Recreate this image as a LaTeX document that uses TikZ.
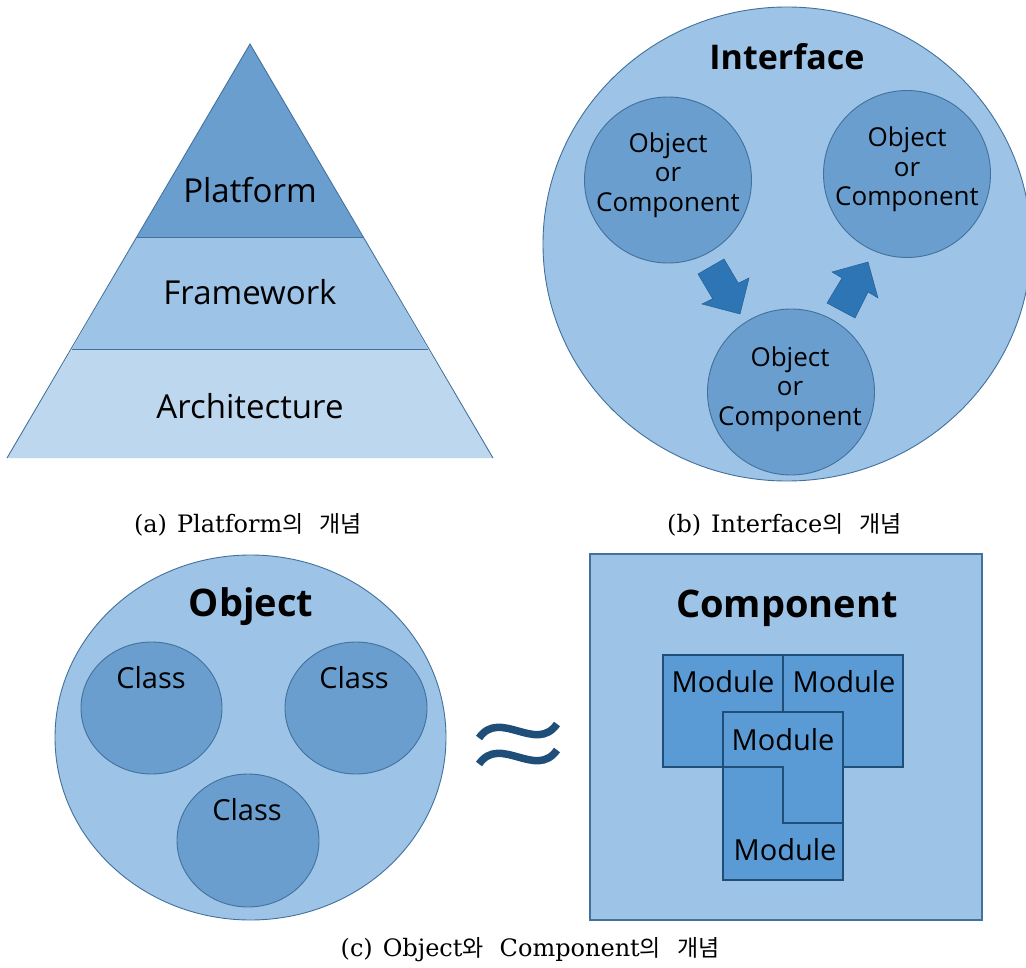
\documentclass[tikz,border=0pt]{standalone}
\usepackage{fontspec}
\setmainfont{Open Sans}
\newfontfamily\capserif{DejaVu Serif}
\newfontfamily\kr{Noto Sans CJK KR}
\usetikzlibrary{shapes.geometric}
\definecolor{lightfill}{HTML}{9DC3E6}
\definecolor{midfill}{HTML}{6A9ECF}
\definecolor{palefill}{HTML}{BDD7EE}
\definecolor{modfill}{HTML}{5B9BD5}
\definecolor{darkline}{HTML}{1F4E79}
\definecolor{thinline}{HTML}{41719C}
\definecolor{arrowfill}{HTML}{2E75B6}
\newcommand{\hg}[1]{{\kr\fontsize{23}{27}\selectfont #1}}
\begin{document}
\begin{tikzpicture}[x=1pt,y=-1pt,
  outl/.style={draw=thinline,line width=0.9pt},
  bigcirc/.style={ellipse,outl,fill=lightfill,inner sep=0pt},
  smallcirc/.style={ellipse,outl,fill=midfill,inner sep=0pt},
  modbox/.style={draw=darkline,line width=2.2pt,fill=modfill,line join=miter},
  lbl/.style={inner sep=0pt,anchor=base,font=\fontsize{33}{38}\selectfont},
  title/.style={inner sep=0pt,anchor=base,font=\fontsize{34}{40}\selectfont\bfseries},
  bigtitle/.style={inner sep=0pt,anchor=base,font=\fontsize{38}{44}\selectfont\bfseries},
  occ/.style={inner sep=0pt,align=center,font=\fontsize{26}{29.5}\selectfont},
  cls/.style={inner sep=0pt,anchor=base,font=\fontsize{29}{33}\selectfont},
  modlbl/.style={inner sep=0pt,anchor=base,font=\fontsize{29}{33}\selectfont},
  captext/.style={inner sep=0pt,anchor=base,font=\fontsize{24}{28}\selectfont\capserif},
  blockarrow/.style={fill=arrowfill,draw=arrowfill!80!black,line width=0.5pt,line join=miter}
]
\useasboundingbox (0,0) rectangle (1026,968);

% ---------- (a) pyramid ----------
\coordinate (apex) at (250,44);
\coordinate (p1l) at (137,237); \coordinate (p1r) at (363,237);
\coordinate (p2l) at (72,349);  \coordinate (p2r) at (428,349);
\coordinate (p3l) at (7,458);   \coordinate (p3r) at (493,458);
\fill[palefill] (p2l) -- (p2r) -- (p3r) -- (p3l) -- cycle;
\fill[lightfill] (p1l) -- (p1r) -- (p2r) -- (p2l) -- cycle;
\fill[midfill] (apex) -- (p1r) -- (p1l) -- cycle;
\draw[outl] (p3l) -- (apex) -- (p3r);
\draw[outl] (p1l) -- (p1r);
\draw[outl] (p2l) -- (p2r);
\node[lbl] (platform) at (250,203) {Platform};
\node[lbl] (framework) at (250,305) {Framework};
\node[lbl] (architecture) at (250,418) {Architecture};
\node[captext] (capa) at (248,532) {(a)\hspace{10pt}Platform\hg{의\hspace{16pt}개념}};

% ---------- (b) interface ----------
\node[bigcirc,minimum width=488pt,minimum height=474pt] (iface) at (787,244) {};
\node[title] (ifacet) at (787,70) {Interface};
\node[smallcirc,minimum width=167pt,minimum height=166pt] (oc1) at (668,180) {};
\node[smallcirc,minimum width=167pt,minimum height=167pt] (oc2) at (907,174) {};
\node[smallcirc,minimum width=167pt,minimum height=166pt] (oc3) at (791,392) {};
\node[occ] (oc1t) at (668,175) {Object\\or\\Component};
\node[occ] (oc2t) at (907,169.5) {Object\\or\\Component};
\node[occ] (oc3t) at (790,389) {Object\\or\\Component};
% block arrows
\coordinate (a1s1) at (698,274); \coordinate (a1s2) at (724,259);
\coordinate (a1i2) at (738.3,283.2); \coordinate (a1w2) at (749,278);
\coordinate (a1t) at (740,314);
\coordinate (a1w1) at (702,304); \coordinate (a1i1) at (712.7,298.8);
\draw[blockarrow] (a1s1) -- (a1s2) -- (a1i2) -- (a1w2) -- (a1t) -- (a1w1) -- (a1i1) -- cycle;
\coordinate (a2s1) at (827,303); \coordinate (a2s2) at (855,318);
\coordinate (a2i2) at (868,292); \coordinate (a2w2) at (878,298);
\coordinate (a2t) at (868,262);
\coordinate (a2w1) at (832,272); \coordinate (a2i1) at (842,278);
\draw[blockarrow] (a2s1) -- (a2i1) -- (a2w1) -- (a2t) -- (a2w2) -- (a2i2) -- (a2s2) -- cycle;
\node[captext] (capb) at (784.5,532) {(b)\hspace{10pt}Interface\hg{의\hspace{16pt}개념}};

% ---------- (c) object ----------
\node[bigcirc,minimum width=391pt,minimum height=365pt] (obj) at (250.5,737.5) {};
\node[bigtitle] (objt) at (251,616) {Object};
\node[smallcirc,minimum width=141pt,minimum height=132pt] (cl1) at (151.5,708) {};
\node[smallcirc,minimum width=142pt,minimum height=132pt] (cl2) at (356,708) {};
\node[smallcirc,minimum width=142pt,minimum height=133pt] (cl3) at (248,840.5) {};
\node[cls] (cl1t) at (151,688) {Class};
\node[cls] (cl2t) at (354,688) {Class};
\node[cls] (cl3t) at (247,820) {Class};

% approx sign
\coordinate (w1a) at (479,738); \coordinate (w1b) at (557,724);
\coordinate (w2a) at (479,764); \coordinate (w2b) at (557,750);
\draw[darkline,line width=7.5pt,line cap=butt] (w1a) .. controls (500,708) and (536,754) .. (w1b);
\draw[darkline,line width=7.5pt,line cap=butt] (w2a) .. controls (500,734) and (536,780) .. (w2b);

% ---------- (c) component ----------
\node[draw=thinline,line width=1.2pt,fill=lightfill,minimum width=392pt,minimum height=366pt,inner sep=0pt] (comp) at (786,737) {};
\node[bigtitle] (compt) at (787,617) {Component};
\coordinate (m1a) at (663,655); \coordinate (m1b) at (783,767);
\coordinate (m2a) at (783,655); \coordinate (m2b) at (903,767);
\draw[modbox] (m1a) rectangle (m1b);
\draw[modbox] (m2a) rectangle (m2b);
\draw[modbox] (723,712) -- (843,712) -- (843,823) -- (783,823) -- (783,767) -- (723,767) -- cycle;
\draw[modbox] (723,767) -- (783,767) -- (783,823) -- (843,823) -- (843,880) -- (723,880) -- cycle;
\node[modlbl] (mod1) at (723,692) {Module};
\node[modlbl] (mod2) at (844,692) {Module};
\node[modlbl] (mod3) at (783,750) {Module};
\node[modlbl] (mod4) at (785,860) {Module};

\node[captext] (capc) at (530,956) {(c)\hspace{10pt}Object\hg{와}\hspace{16pt}Component\hg{의\hspace{16pt}개념}};
\end{tikzpicture}
\end{document}
